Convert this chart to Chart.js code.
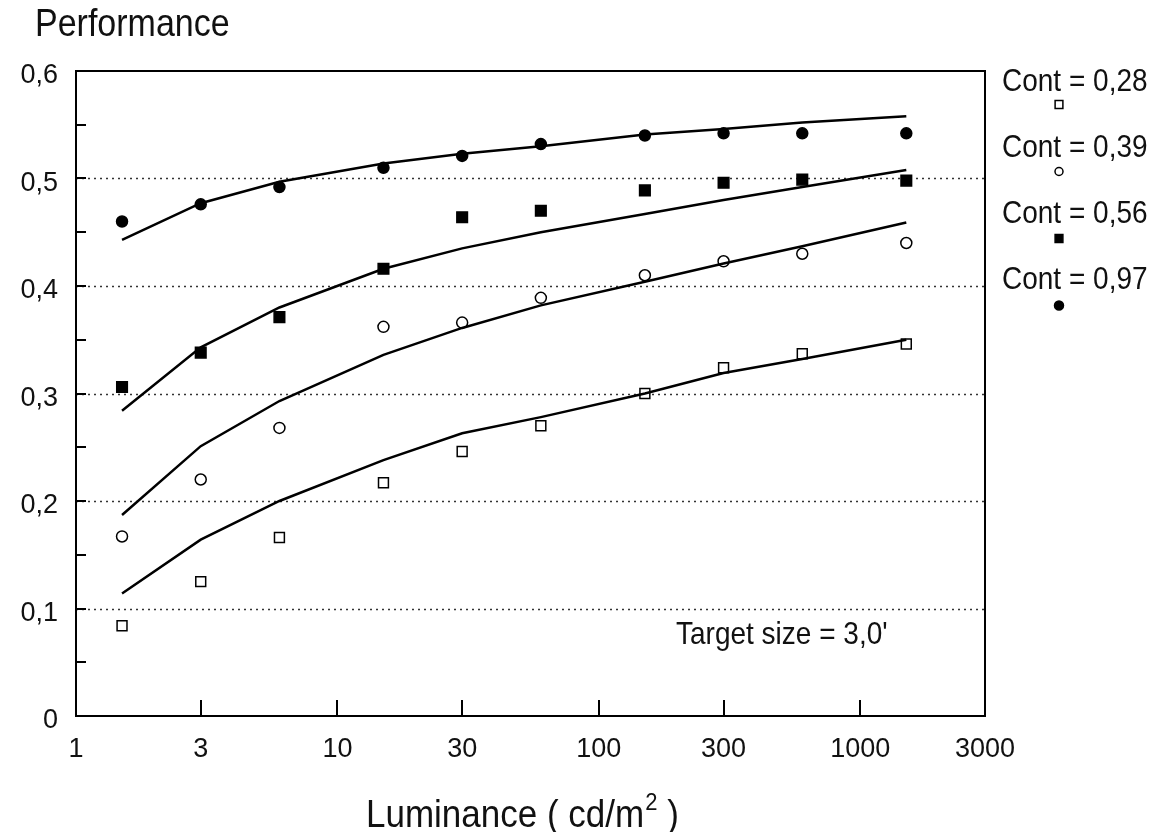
<!DOCTYPE html>
<html>
<head>
<meta charset="utf-8">
<title>Performance vs Luminance</title>
<script src="https://cdn.jsdelivr.net/npm/chart.js@4.4.0/dist/chart.umd.min.js"></script>
<style>
  html, body { margin: 0; padding: 0; background: #fff; }
  #wrap { width: 1164px; height: 832px; position: relative; }
</style>
</head>
<body>
<div id="wrap"><canvas id="grafica"></canvas></div>
<script>
// luminance (cd/m2) at which the targets were measured
const luminance = [1.5, 3, 6, 15, 30, 60, 150, 300, 600, 1500];

const contLabels = ["Cont = 0,28", "Cont = 0,39", "Cont = 0,56", "Cont = 0,97"];

// measured performance (markers)
const medido028 = [0.084, 0.125, 0.166, 0.217, 0.246, 0.270, 0.300, 0.324, 0.337, 0.346];
const medido039 = [0.167, 0.220, 0.268, 0.362, 0.366, 0.389, 0.410, 0.423, 0.430, 0.440];
const medido056 = [0.306, 0.338, 0.371, 0.416, 0.464, 0.470, 0.489, 0.496, 0.499, 0.498];
const medido097 = [0.460, 0.476, 0.492, 0.510, 0.521, 0.532, 0.540, 0.542, 0.542, 0.542];

// model curves (solid lines)
const modelo028 = [0.114, 0.164, 0.200, 0.238, 0.263, 0.278, 0.300, 0.319, 0.332, 0.350];
const modelo039 = [0.187, 0.251, 0.293, 0.336, 0.361, 0.382, 0.404, 0.421, 0.437, 0.459];
const modelo056 = [0.284, 0.343, 0.380, 0.416, 0.435, 0.450, 0.467, 0.480, 0.492, 0.508];
const modelo097 = [0.443, 0.477, 0.497, 0.514, 0.523, 0.530, 0.541, 0.546, 0.552, 0.558];

const xTicks = [1, 3, 10, 30, 100, 300, 1000, 3000];
const yTicks = [0, 0.1, 0.2, 0.3, 0.4, 0.5, 0.6];
const yGrid = [0.1, 0.2, 0.3, 0.4, 0.5];
const yMinor = [0.05, 0.15, 0.25, 0.35, 0.45, 0.55];
const xInnerTicks = [3, 10, 30, 100, 300, 1000];

const FUENTE = '"Liberation Sans", Arial, sans-serif';

const puntos = (ys) => luminance.map((x, i) => ({ x: x, y: ys[i] }));

const estilos = [
    { pointStyle: "rect",   bg: "#fff", radius: 7,   legRadius: 5.5 },
    { pointStyle: "circle", bg: "#fff", radius: 5.5, legRadius: 4 },
    { pointStyle: "rect",   bg: "#000", radius: 7.5, legRadius: 5.5 },
    { pointStyle: "circle", bg: "#000", radius: 5.5, legRadius: 4.5 }
];

const medidos = [medido028, medido039, medido056, medido097];
const modelos = [modelo028, modelo039, modelo056, modelo097];

const datasets = [];
modelos.forEach((m, i) => {
    datasets.push({
        label: contLabels[i] + " modelo",
        data: puntos(m),
        showLine: true,
        borderColor: "#000",
        borderWidth: 2.5,
        pointRadius: 0,
        tension: 0
    });
});
medidos.forEach((m, i) => {
    datasets.push({
        label: contLabels[i],
        data: puntos(m),
        showLine: false,
        pointStyle: estilos[i].pointStyle,
        pointRadius: estilos[i].radius,
        backgroundColor: estilos[i].bg,
        borderColor: "#000",
        borderWidth: 1.5
    });
});

// text a bit taller than wide, like the scanned figure
function texto(ctx, t, x, y, size, base) {
    ctx.save();
    ctx.font = size + "px " + FUENTE;
    ctx.textBaseline = base || "middle";
    ctx.translate(x, y);
    ctx.scale(1, 1.12);
    ctx.fillText(t, 0, 0);
    const w = ctx.measureText(t).width;
    ctx.restore();
    return w;
}

// grid, frame, inner ticks and texts
const decoracion = {
    id: "decoracion",
    beforeDatasetsDraw(chart) {
        const { ctx, chartArea: a, scales } = chart;
        ctx.save();
        ctx.strokeStyle = "#333";
        ctx.lineWidth = 1.5;
        ctx.setLineDash([2, 4]);
        yGrid.forEach(v => {
            const y = Math.round(scales.y.getPixelForValue(v)) + 0.5;
            ctx.beginPath();
            ctx.moveTo(a.left, y);
            ctx.lineTo(a.right, y);
            ctx.stroke();
        });
        ctx.restore();
    },
    afterDraw(chart) {
        const { ctx, chartArea: a, scales } = chart;
        ctx.save();
        ctx.strokeStyle = "#000";
        ctx.lineWidth = 2;
        ctx.strokeRect(a.left, a.top, a.right - a.left, a.bottom - a.top);

        // inward ticks
        yTicks.concat(yMinor).forEach(v => {
            if (v <= 0 || v >= 0.6) return;
            const y = Math.round(scales.y.getPixelForValue(v));
            ctx.beginPath();
            ctx.moveTo(a.left, y);
            ctx.lineTo(a.left + 10, y);
            ctx.stroke();
        });
        xInnerTicks.forEach(v => {
            const x = Math.round(scales.x.getPixelForValue(v));
            ctx.beginPath();
            ctx.moveTo(x, a.bottom);
            ctx.lineTo(x, a.bottom - 16);
            ctx.stroke();
        });

        ctx.fillStyle = "#111";
        ctx.textAlign = "left";

        texto(ctx, "Performance", 35, 25, 34);
        texto(ctx, "Target size = 3,0'", 676, 635, 28);

        // legend
        contLabels.forEach((t, i) => {
            ctx.fillStyle = "#111";
            texto(ctx, t, 1002, 82.5 + 66 * i, 28);
            const mx = 1059, my = 104.5 + 67 * i, r = estilos[i].legRadius;
            ctx.fillStyle = estilos[i].bg;
            ctx.strokeStyle = "#000";
            ctx.lineWidth = 1.5;
            ctx.beginPath();
            if (estilos[i].pointStyle === "rect") {
                const s = r * Math.SQRT1_2;
                ctx.rect(mx - s, my - s, 2 * s, 2 * s);
            } else {
                ctx.arc(mx, my, r, 0, Math.PI * 2);
            }
            ctx.fill();
            ctx.stroke();
        });

        // x title with superscript
        ctx.fillStyle = "#111";
        let x = 366;
        x += texto(ctx, "Luminance ( cd/m", x, 827, 35, "alphabetic") + 1;
        x += texto(ctx, "2", x, 810, 22, "alphabetic");
        texto(ctx, " )", x, 827, 35, "alphabetic");
        ctx.restore();
    }
};

new Chart(document.getElementById("grafica"), {
    type: "scatter",
    data: { datasets: datasets },
    options: {
        responsive: true,
        maintainAspectRatio: false,
        animation: false,
        layout: { padding: { top: 71, right: 179, left: 0, bottom: 0 } },
        plugins: {
            legend: { display: false },
            tooltip: { enabled: false }
        },
        scales: {
            x: {
                type: "logarithmic",
                min: 1,
                max: 3000,
                afterBuildTicks: s => { s.ticks = xTicks.map(v => ({ value: v })); },
                afterFit: s => { s.height = 116; },
                grid: { display: false, drawTicks: false },
                border: { display: false },
                ticks: {
                    color: "#111",
                    font: { family: FUENTE, size: 27 },
                    padding: 17,
                    maxRotation: 0,
                    autoSkip: false,
                    callback: v => String(v)
                }
            },
            y: {
                min: 0,
                max: 0.6,
                afterBuildTicks: s => { s.ticks = yTicks.map(v => ({ value: v })); },
                afterFit: s => { s.width = 76; },
                grid: { display: false, drawTicks: false },
                border: { display: false },
                ticks: {
                    color: "#111",
                    font: { family: FUENTE, size: 27 },
                    padding: 18,
                    labelOffset: 5,
                    callback: v => v === 0 ? "0" : v.toFixed(1).replace(".", ",")
                }
            }
        }
    },
    plugins: [decoracion]
});
</script>
</body>
</html>
